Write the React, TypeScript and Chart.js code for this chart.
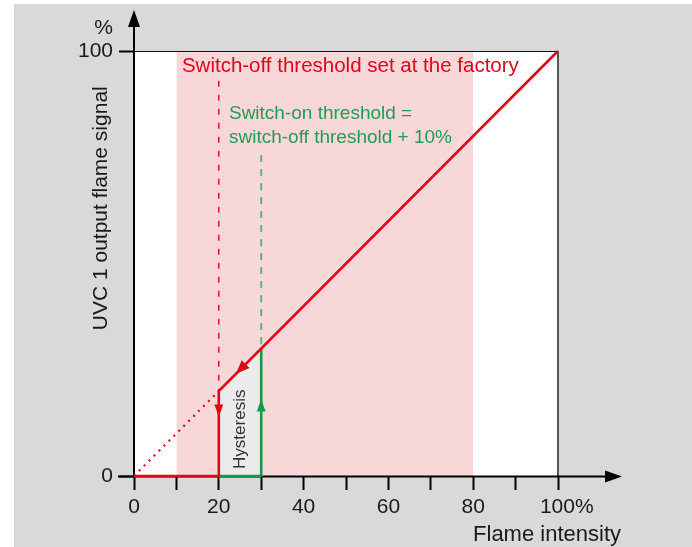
import React, { useEffect, useRef } from 'react';
import { Chart, registerables } from 'chart.js';

Chart.register(...registerables);

// ---- data ----
const xTickValues = [0, 10, 20, 30, 40, 50, 60, 70, 80, 90, 100];
const xTickLabels = ['0', '', '20', '', '40', '', '60', '', '80', '', '   100%'];
const yTickLabels = ['0', '100'];

const bandX = [10, 80];
const bandY = [100, 100];
const hystX = [20, 20, 30, 30];
const hystY = [0, 20, 30, 0];
const redX = [0, 20, 20, 100];
const redY = [0, 0, 20, 100];
const greenX = [20, 30, 30];
const greenY = [0, 0, 30];
const dottedX = [0, 20];
const dottedY = [0, 20];
const offDashX = [20, 20];
const offDashY = [93, 20];
const onDashX = [30, 30];
const onDashY = [75.5, 30];

// arrowheads: tip and tail (direction)
const arrowTipX = [20, 30, 24];
const arrowTipY = [14, 18, 24];
const arrowTailX = [20, 30, 30];
const arrowTailY = [20, 0, 30];

const offText = 'Switch-off threshold set at the factory';
const onText = ['Switch-on threshold =', 'switch-off threshold + 10%'];
const hystText = 'Hysteresis';
const yTitle = 'UVC 1 output flame signal';
const xTitle = 'Flame intensity';

const RED = '#e30613';
const GREEN = '#159a48';
const FONT = '"Liberation Sans", Arial, Helvetica, sans-serif';

const pts = (xs: number[], ys: number[]) => xs.map((x, i) => ({ x, y: ys[i] }));

export default function App() {
  const ref = useRef<HTMLCanvasElement>(null);

  useEffect(() => {
    const canvas = ref.current!;

    const arrowHead = (ctx: CanvasRenderingContext2D, tx: number, ty: number, dx: number, dy: number, len: number, hw: number, color: string) => {
      const m = Math.hypot(dx, dy);
      const ux = dx / m, uy = dy / m;
      const bx = tx - ux * len, by = ty - uy * len;
      ctx.beginPath();
      ctx.moveTo(tx, ty);
      ctx.lineTo(bx - uy * hw, by + ux * hw);
      ctx.lineTo(bx + uy * hw, by - ux * hw);
      ctx.closePath();
      ctx.fillStyle = color;
      ctx.fill();
    };

    const drawAxes = (chart: any) => {
      const ctx: CanvasRenderingContext2D = chart.ctx;
      const { left, right, top, bottom } = chart.chartArea;
      const xs = chart.scales.x, ys = chart.scales.y;
      ctx.save();
      // hysteresis region
      ctx.fillStyle = '#ebebeb';
      ctx.beginPath();
      hystX.forEach((x, i) => {
        const px = xs.getPixelForValue(x), py = ys.getPixelForValue(hystY[i]);
        if (i === 0) ctx.moveTo(px, py); else ctx.lineTo(px, py);
      });
      ctx.closePath();
      ctx.fill();
      // top border
      ctx.strokeStyle = '#111';
      ctx.lineWidth = 1.2;
      ctx.beginPath();
      ctx.moveTo(left, top + 0.5);
      ctx.lineTo(right, top + 0.5);
      ctx.stroke();
      // right border
      ctx.strokeStyle = '#555';
      ctx.lineWidth = 2;
      ctx.beginPath();
      ctx.moveTo(right, top);
      ctx.lineTo(right, bottom);
      ctx.stroke();
      // y axis
      ctx.strokeStyle = '#000';
      ctx.lineWidth = 2;
      ctx.beginPath();
      ctx.moveTo(left, bottom + 1);
      ctx.lineTo(left, top - 26);
      ctx.stroke();
      arrowHead(ctx, left, top - 41, 0, -1, 17, 6, '#000');
      // x axis
      ctx.beginPath();
      ctx.moveTo(left - 16, bottom + 0.5);
      ctx.lineTo(right + 50, bottom + 0.5);
      ctx.stroke();
      arrowHead(ctx, right + 64, bottom + 0.5, 1, 0, 17, 6, '#000');

      // axis texts
      ctx.fillStyle = '#1a1a1a';
      ctx.font = `21px ${FONT}`;
      ctx.textAlign = 'right';
      ctx.textBaseline = 'middle';
      ctx.fillText('%', left - 21, top - 23);
      ctx.textBaseline = 'alphabetic';
      ctx.font = `22px ${FONT}`;
      ctx.fillText(xTitle, right + 63, bottom + 65);
      ctx.save();
      ctx.translate(left - 33, ys.getPixelForValue(63));
      ctx.rotate(-Math.PI / 2);
      ctx.textAlign = 'center';
      ctx.textBaseline = 'middle';
      ctx.font = `21px ${FONT}`;
      ctx.fillText(yTitle, 0, 0);
      ctx.restore();
      ctx.restore();
    };

    const plugin = {
      id: 'deco',
      beforeDraw(chart: any) {
        const ctx: CanvasRenderingContext2D = chart.ctx;
        const { left, right, top, bottom } = chart.chartArea;
        ctx.save();
        ctx.fillStyle = '#ffffff';
        ctx.fillRect(0, 0, chart.width, chart.height);
        ctx.fillStyle = '#d9d9d9';
        ctx.fillRect(14, 4, chart.width - 14, chart.height - 4);
        ctx.fillStyle = '#ffffff';
        ctx.fillRect(left, top, right - left, bottom - top);
        ctx.restore();
      },
      beforeDatasetDraw(chart: any, args: any) {
        if (chart.data.datasets[args.index].label === 'dotted') drawAxes(chart);
      },
      afterDatasetsDraw(chart: any) {
        const ctx: CanvasRenderingContext2D = chart.ctx;
        const xs = chart.scales.x, ys = chart.scales.y;
        ctx.save();
        const colors = [RED, GREEN, RED];
        for (let i = 0; i < arrowTipX.length; i++) {
          const tx = xs.getPixelForValue(arrowTipX[i]);
          const ty = ys.getPixelForValue(arrowTipY[i]);
          const fx = xs.getPixelForValue(arrowTailX[i]);
          const fy = ys.getPixelForValue(arrowTailY[i]);
          arrowHead(ctx, tx, ty, tx - fx, ty - fy, i === 2 ? 14 : 12, i === 2 ? 5.5 : 4.5, colors[i]);
        }
        // annotation texts
        ctx.textAlign = 'left';
        ctx.textBaseline = 'middle';
        ctx.fillStyle = '#e2001a';
        ctx.font = `20.5px ${FONT}`;
        ctx.fillText(offText, xs.getPixelForValue(11.3), ys.getPixelForValue(96.5));
        ctx.fillStyle = '#1f9d55';
        ctx.font = `19px ${FONT}`;
        ctx.fillText(onText[0], xs.getPixelForValue(22.4), ys.getPixelForValue(85.2));
        ctx.fillText(onText[1], xs.getPixelForValue(22.4), ys.getPixelForValue(79.6));
        // hysteresis
        ctx.save();
        ctx.translate(xs.getPixelForValue(25), ys.getPixelForValue(11));
        ctx.rotate(-Math.PI / 2);
        ctx.textAlign = 'center';
        ctx.fillStyle = '#333';
        ctx.font = `17px ${FONT}`;
        ctx.fillText(hystText, 0, 0);
        ctx.restore();
        ctx.restore();
      },
    };

    const chart = new Chart(canvas, {
      type: 'scatter',
      data: {
        datasets: [
          { label: 'band', data: pts(bandX, bandY), showLine: true, borderWidth: 0, borderColor: 'rgba(0,0,0,0)', backgroundColor: '#f8d7d9', fill: 'origin', pointRadius: 0, order: 10 },
          { label: 'dotted', data: pts(dottedX, dottedY), showLine: true, borderColor: RED, borderWidth: 2.2, borderDash: [2, 5], pointRadius: 0, fill: false, clip: false, order: 5 },
          { label: 'offDash', data: pts(offDashX, offDashY), showLine: true, borderColor: RED, borderWidth: 1.4, borderDash: [6, 8], pointRadius: 0, fill: false, clip: false, order: 4 },
          { label: 'onDash', data: pts(onDashX, onDashY), showLine: true, borderColor: '#5cb27a', borderWidth: 2, borderDash: [7, 7], pointRadius: 0, fill: false, clip: false, order: 3 },
          { label: 'green', data: pts(greenX, greenY), showLine: true, borderColor: GREEN, borderWidth: 2.6, pointRadius: 0, fill: false, clip: false, order: 2 },
          { label: 'red', data: pts(redX, redY), showLine: true, borderColor: RED, borderWidth: 2.6, pointRadius: 0, fill: false, clip: false, order: 1 },
        ],
      },
      options: {
        animation: false,
        responsive: false,
        devicePixelRatio: 1,
        events: [],
        layout: { padding: { left: 0, top: 51, right: 134, bottom: 0 } },
        plugins: { legend: { display: false }, tooltip: { enabled: false } },
        elements: { line: { tension: 0, borderCapStyle: 'butt', borderJoinStyle: 'miter' } },
        scales: {
          x: {
            type: 'linear',
            position: 'bottom',
            min: 0,
            max: 100,
            afterFit: (s: any) => { s.height = 71; },
            afterBuildTicks: (s: any) => { s.ticks = xTickValues.map((v) => ({ value: v })); },
            ticks: {
              autoSkip: false,
              maxRotation: 0,
              padding: 5,
              color: '#1a1a1a',
              font: { size: 21, family: FONT },
              callback: (_v: any, i: number) => xTickLabels[i],
            },
            grid: { drawOnChartArea: false, drawTicks: true, tickLength: 14, tickWidth: 2, tickColor: '#000' },
            border: { display: false },
          },
          y: {
            type: 'linear',
            min: 0,
            max: 100,
            afterFit: (s: any) => { s.width = 134; },
            afterBuildTicks: (s: any) => { s.ticks = [{ value: 0 }, { value: 100 }]; },
            ticks: {
              padding: 6,
              color: '#1a1a1a',
              font: { size: 21, family: FONT },
              callback: (_v: any, i: number) => yTickLabels[i],
            },
            grid: { drawOnChartArea: false, drawTicks: true, tickLength: 15, tickWidth: 2, tickColor: '#000' },
            border: { display: false },
          },
        },
      },
      plugins: [plugin],
    } as any);
    return () => chart.destroy();
  }, []);

  return (
    <div style={{ position: 'absolute', left: 0, top: 0, width: 692, height: 547 }}>
      <canvas ref={ref} width={692} height={547} style={{ display: 'block', width: 692, height: 547 }} />
    </div>
  );
}
